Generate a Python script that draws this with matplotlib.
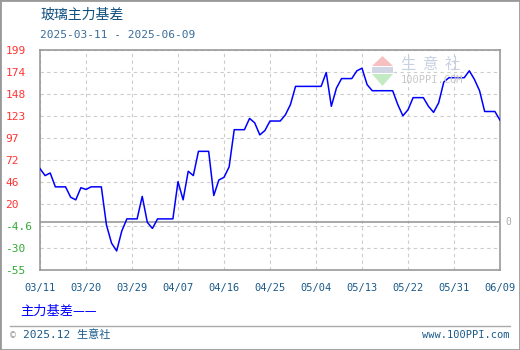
import numpy as np
import pandas as pd
import matplotlib
matplotlib.use('Agg')
import matplotlib.pyplot as plt
from matplotlib.patches import Rectangle, Polygon
from matplotlib.lines import Line2D
import matplotlib.transforms as mtransforms

plt.rcParams['font.family'] = ['DejaVu Sans Mono', 'Noto Sans CJK SC']

# daily basis values, 2025-03-11 .. 2025-06-09 (non-trading days carry the last value)
start_date = '2025-03-11'
end_date = '2025-06-09'
basis = [62, 54, 57, 41, 41, 41, 29, 26, 40, 38,
         41, 41, 41, -3, -24, -33, -10, 4, 4, 4,
         30, 0, -7, 4, 4, 4, 4, 47, 26, 59,
         54, 82, 82, 82, 31, 49, 52, 64, 107, 107,
         107, 120, 115, 101, 106, 117, 117, 117, 124, 136,
         157, 157, 157, 157, 157, 157, 173, 134, 155, 166,
         166, 166, 175, 178, 159, 152, 152, 152, 152, 152,
         136, 123, 130, 144, 144, 144, 134, 127, 138, 162,
         167, 167, 167, 167, 175, 165, 152, 128, 128, 128,
         118]
y_tick_labels = ['199', '174', '148', '123', '97', '72', '46', '20', '-4.6', '-30', '-55']
x_tick_labels = ['03/11', '03/20', '03/29', '04/07', '04/16', '04/25',
                 '05/04', '05/13', '05/22', '05/31', '06/09']

dates = pd.date_range(start_date, end_date, freq='D')

W, H = 520, 350
def fx(x):
    return x / W
def fy(y):
    return 1 - y / H

teal = '#1a5a8a'
fig = plt.figure(figsize=(5.2, 3.5), dpi=100)
fig.patch.set_facecolor('white')

# outer frame and footer separator
fig.add_artist(Rectangle((0, 0), 1, 1, transform=fig.transFigure, fill=False,
                         ec='#999999', lw=2))
fig.add_artist(Line2D([fx(10), fx(510)], [fy(326), fy(326)], transform=fig.transFigure,
                      color='#aaaaaa', lw=1))

ax = fig.add_axes([fx(40), fy(270), 460 / W, 220 / H])

# watermark
fig.add_artist(Polygon([(fx(372), fy(66)), (fx(393), fy(66)), (fx(382.5), fy(56))],
                       closed=True, transform=fig.transFigure, fc='#f6c0c0', ec='none'))
fig.add_artist(Polygon([(fx(372), fy(74)), (fx(393), fy(74)), (fx(382.5), fy(86))],
                       closed=True, transform=fig.transFigure, fc='#c4eac4', ec='none'))
fig.add_artist(Rectangle((fx(372), fy(73)), 21 / W, 6 / H, transform=fig.transFigure,
                         fc='#d0d6e4', ec='none'))
fig.text(fx(401), fy(65), '生  意  社', color='#c8d0e2', fontsize=11,
         family=['Noto Sans CJK SC'], va='center', ha='left')
fig.text(fx(401), fy(80), '100PPI.COM', color='#c8c8c8', fontsize=7.5, va='center', ha='left')

ax.plot(dates, basis, color='#0000ff', lw=1.1, zorder=3)
ax.set_xlim(dates[0], dates[-1])
ax.set_ylim(-55, 199)

ax.set_yticks(np.linspace(199, -55, 11))
ax.set_yticklabels(y_tick_labels)
ax.tick_params(axis='y', length=0, pad=25, labelsize=8)
for lab, s in zip(ax.get_yticklabels(), y_tick_labels):
    lab.set_horizontalalignment('left')
    lab.set_color('#33aa33' if s.startswith('-') else '#ff3333')

ax.set_xticks(dates[::9])
ax.set_xticklabels(x_tick_labels)
ax.tick_params(axis='x', length=0, pad=9, labelcolor=teal, labelsize=7.5)

ax.grid(True, color='#cccccc', ls=(0, (3, 3)), lw=0.8)
ax.axhline(0, color='#999999', lw=1.2, zorder=2)
for sp in ax.spines.values():
    sp.set_color('#999999')
    sp.set_linewidth(1.2)

trans = mtransforms.blended_transform_factory(fig.transFigure, ax.transData)
fig.text(fx(505), 0, '0', transform=trans, color='#aaaaaa', fontsize=7,
         va='center', ha='left')

# titles
fig.text(fx(40), fy(15), '玻璃主力基差', color='#10507f', fontsize=10,
         family=['Noto Sans CJK SC'], va='center', ha='left')
fig.text(fx(40), fy(35), '2025-03-11 - 2025-06-09', color='#3a6d9a', fontsize=8,
         va='center', ha='left')

# legend
fig.text(fx(20), fy(311), '主力基差——', color='#0000ff', fontsize=9.5,
         family=['Noto Sans CJK SC'], va='center', ha='left')

# footer
fig.text(fx(10), fy(335), '©', color='#999999', fontsize=7, va='center', ha='left')
fig.text(fx(23), fy(335), '2025.12 生意社', color=teal, fontsize=8,
         va='center', ha='left')
fig.text(fx(510), fy(335), 'www.100PPI.com', color=teal, fontsize=7.5,
         va='center', ha='right')

fig.savefig('out.png', dpi=100)
